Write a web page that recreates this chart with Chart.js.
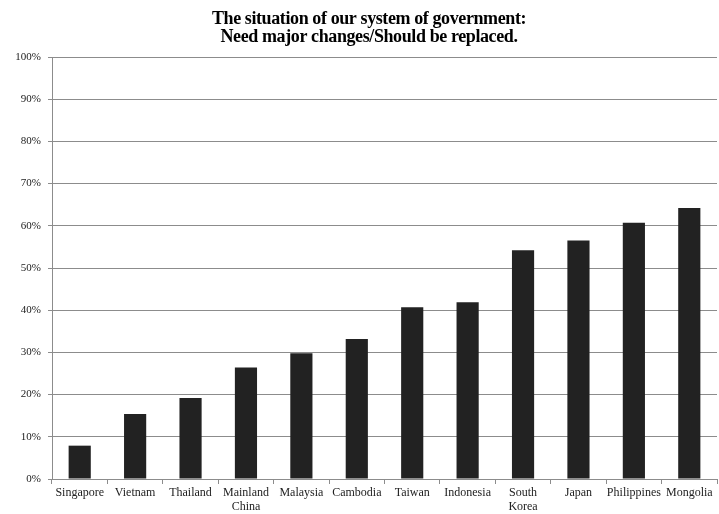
<!DOCTYPE html>
<html>
<head>
<meta charset="utf-8">
<script src="https://cdn.jsdelivr.net/npm/chart.js@4"></script>
<style>
  html, body { margin: 0; padding: 0; background: #fff; }
  #wrap { width: 719px; height: 514px; }
</style>
</head>
<body>
<div id="wrap"><canvas id="gov-chart"></canvas></div>
<script>
// Categories and values (percent)
const countries = [
    'Singapore', 'Vietnam', 'Thailand', ['Mainland', 'China'], 'Malaysia', 'Cambodia',
    'Taiwan', 'Indonesia', ['South', 'Korea'], 'Japan', 'Philippines', 'Mongolia'
];
const changeValues = [7.9, 15.4, 19.2, 26.4, 29.8, 33.2, 40.7, 41.9, 54.2, 56.5, 60.7, 64.2];
const yTicks = [0, 10, 20, 30, 40, 50, 60, 70, 80, 90, 100];
const titleLines = ['The situation of our system of government:', 'Need major changes/Should be replaced.'];

const serif = "'Liberation Serif', 'Times New Roman', serif";

// Title drawn a bit right of the canvas centre, like the original
const titlePlugin = {
    id: 'titleLines',
    afterDraw(chart) {
        const ctx = chart.ctx;
        ctx.save();
        ctx.font = 'bold 18px ' + serif;
        if ('letterSpacing' in ctx) ctx.letterSpacing = '-0.4px';
        ctx.fillStyle = '#000';
        ctx.textAlign = 'center';
        ctx.textBaseline = 'alphabetic';
        titleLines.forEach((line, i) => {
            ctx.fillText(line, 369, 24 + i * 18);
        });
        ctx.restore();
    }
};

function createGovChart() {
    const node = document.getElementById('gov-chart');

    new Chart(node, {
        type: 'bar',
        data: {
            labels: countries,
            datasets: [{
                label: 'Need major changes/Should be replaced',
                data: changeValues,
                backgroundColor: '#222222',
                barPercentage: 0.4,
                categoryPercentage: 1.0,
            }],
        },
        options: {
            responsive: true,
            maintainAspectRatio: false,
            animation: false,
            layout: { padding: { left: 0, right: 2, top: 57, bottom: 0 } },
            plugins: {
                legend: { display: false },
                tooltip: { enabled: false },
                title: { display: false },
            },
            scales: {
                y: {
                    min: 0,
                    max: 100,
                    afterBuildTicks: (axis) => {
                        axis.ticks = yTicks.map(v => ({ value: v }));
                    },
                    ticks: {
                        callback: (v) => v + '%',
                        color: '#222',
                        font: { family: serif, size: 11 },
                        padding: 7,
                    },
                    grid: { color: '#8c8c8c', tickLength: 4 },
                    border: { color: '#8c8c8c' },
                    afterFit: (axis) => { axis.width = 52; },
                },
                x: {
                    ticks: {
                        color: '#222',
                        font: { family: serif, size: 12, lineHeight: 1.15 },
                        padding: 2,
                        maxRotation: 0,
                        autoSkip: false,
                    },
                    grid: { offset: true, drawOnChartArea: false, color: '#8c8c8c', tickLength: 5 },
                    border: { color: '#8c8c8c' },
                    afterFit: (axis) => { axis.height = 35; },
                },
            },
        },
        plugins: [titlePlugin],
    });
}

createGovChart();
</script>
</body>
</html>
